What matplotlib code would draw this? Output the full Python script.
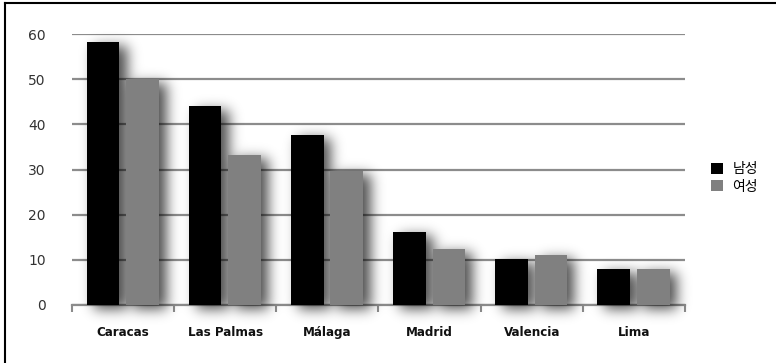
import numpy as np
import matplotlib
matplotlib.use("Agg")
import matplotlib.pyplot as plt
from matplotlib.patches import Patch
from matplotlib.lines import Line2D
from matplotlib.ticker import FixedLocator

cities = ["Caracas", "Las Palmas", "Málaga", "Madrid", "Valencia", "Lima"]
male = [58.2, 44.0, 37.7, 16.2, 10.1, 7.9]
female = [50.0, 33.2, 29.7, 12.4, 11.1, 7.9]
series_names = ["남성", "여성"]
yticks = [0, 10, 20, 30, 40, 50, 60]

W, H = 776, 363
fig = plt.figure(figsize=(W / 100, H / 100), dpi=100)
ax = fig.add_axes([72 / W, 1 - 305 / H, (685 - 72) / W, (305 - 34) / H])

x = np.arange(len(cities))
bw = 0.32
off_m, off_f = -0.197, 0.189
colors = ["#000000", "#808080"]

ax.bar(x + off_m, male, bw, color=colors[0], zorder=3)
ax.bar(x + off_f, female, bw, color=colors[1], zorder=3)

# soft drop shadow under the bars
x0, x1, y0, y1 = -0.5, 5.9, -6.0, 64.0
nx, ny = 650, 316
gx = np.linspace(x0, x1, nx)
gy = np.linspace(y0, y1, ny)
mask = np.zeros((ny, nx))
sx, sy = 0.07, -0.9
for offs, vals in ((off_m, male), (off_f, female)):
    for xi, v in zip(x, vals):
        l, r = xi + offs - bw / 2 + sx, xi + offs + bw / 2 + sx
        b, t = 0 + sy, v + sy
        cx = (gx >= l) & (gx <= r)
        cy = (gy >= b) & (gy <= t)
        mask[np.ix_(cy, cx)] = 1.0
sig = 6.5
k = np.arange(-22, 23)
g = np.exp(-k ** 2 / (2 * sig ** 2))
g /= g.sum()
mask = np.apply_along_axis(lambda r: np.convolve(r, g, mode="same"), 1, mask)
mask = np.apply_along_axis(lambda c: np.convolve(c, g, mode="same"), 0, mask)
rgba = np.zeros((ny, nx, 4))
rgba[..., 3] = np.clip(mask * 0.7, 0, 1)
ax.imshow(rgba, extent=(x0, x1, y0, y1), origin="lower", aspect="auto",
          interpolation="bilinear", zorder=2, clip_on=False)

ax.set_xlim(-0.5, 5.5)
ax.set_ylim(0, 60)

grid_c = "#8c8c8c"
ax.set_yticks(yticks)
ax.yaxis.grid(True, color=grid_c, lw=1.6, zorder=0)
ax.set_axisbelow(True)
for s in ("top", "right", "left"):
    ax.spines[s].set_visible(False)
ax.spines["bottom"].set_color(grid_c)
ax.spines["bottom"].set_linewidth(1.6)
ax.spines["bottom"].set_zorder(1)

ax.tick_params(axis="y", length=0, pad=19, labelsize=10, labelcolor="#333333")
ax.set_xticks(x)
ax.set_xticklabels(cities, fontweight="bold", fontstretch="condensed")
ax.tick_params(axis="x", which="major", length=0, pad=15, labelsize=9.5, labelcolor="#111111")
ax.xaxis.set_minor_locator(FixedLocator(np.arange(-0.5, 6.0, 1.0)))
ax.tick_params(axis="x", which="minor", length=5, width=1.5, color=grid_c, direction="out")

handles = [Patch(facecolor=c, edgecolor="none") for c in colors]
fig.legend(handles, series_names, loc="center left",
           bbox_to_anchor=(704 / W, 1 - 178 / H), frameon=False,
           handlelength=0.85, handleheight=0.85, handletextpad=0.7,
           labelspacing=0.25, borderpad=0,
           prop={"family": ["Noto Sans CJK KR", "DejaVu Sans"], "size": 10})

# frame lines along the top and left edge
fig.add_artist(Line2D([5 / W, 1], [1 - 3 / H, 1 - 3 / H], color="black", lw=1.5,
                      transform=fig.transFigure))
fig.add_artist(Line2D([5 / W, 5 / W], [0, 1 - 3 / H], color="black", lw=1.5,
                      transform=fig.transFigure))

fig.savefig("out.png", dpi=100)
